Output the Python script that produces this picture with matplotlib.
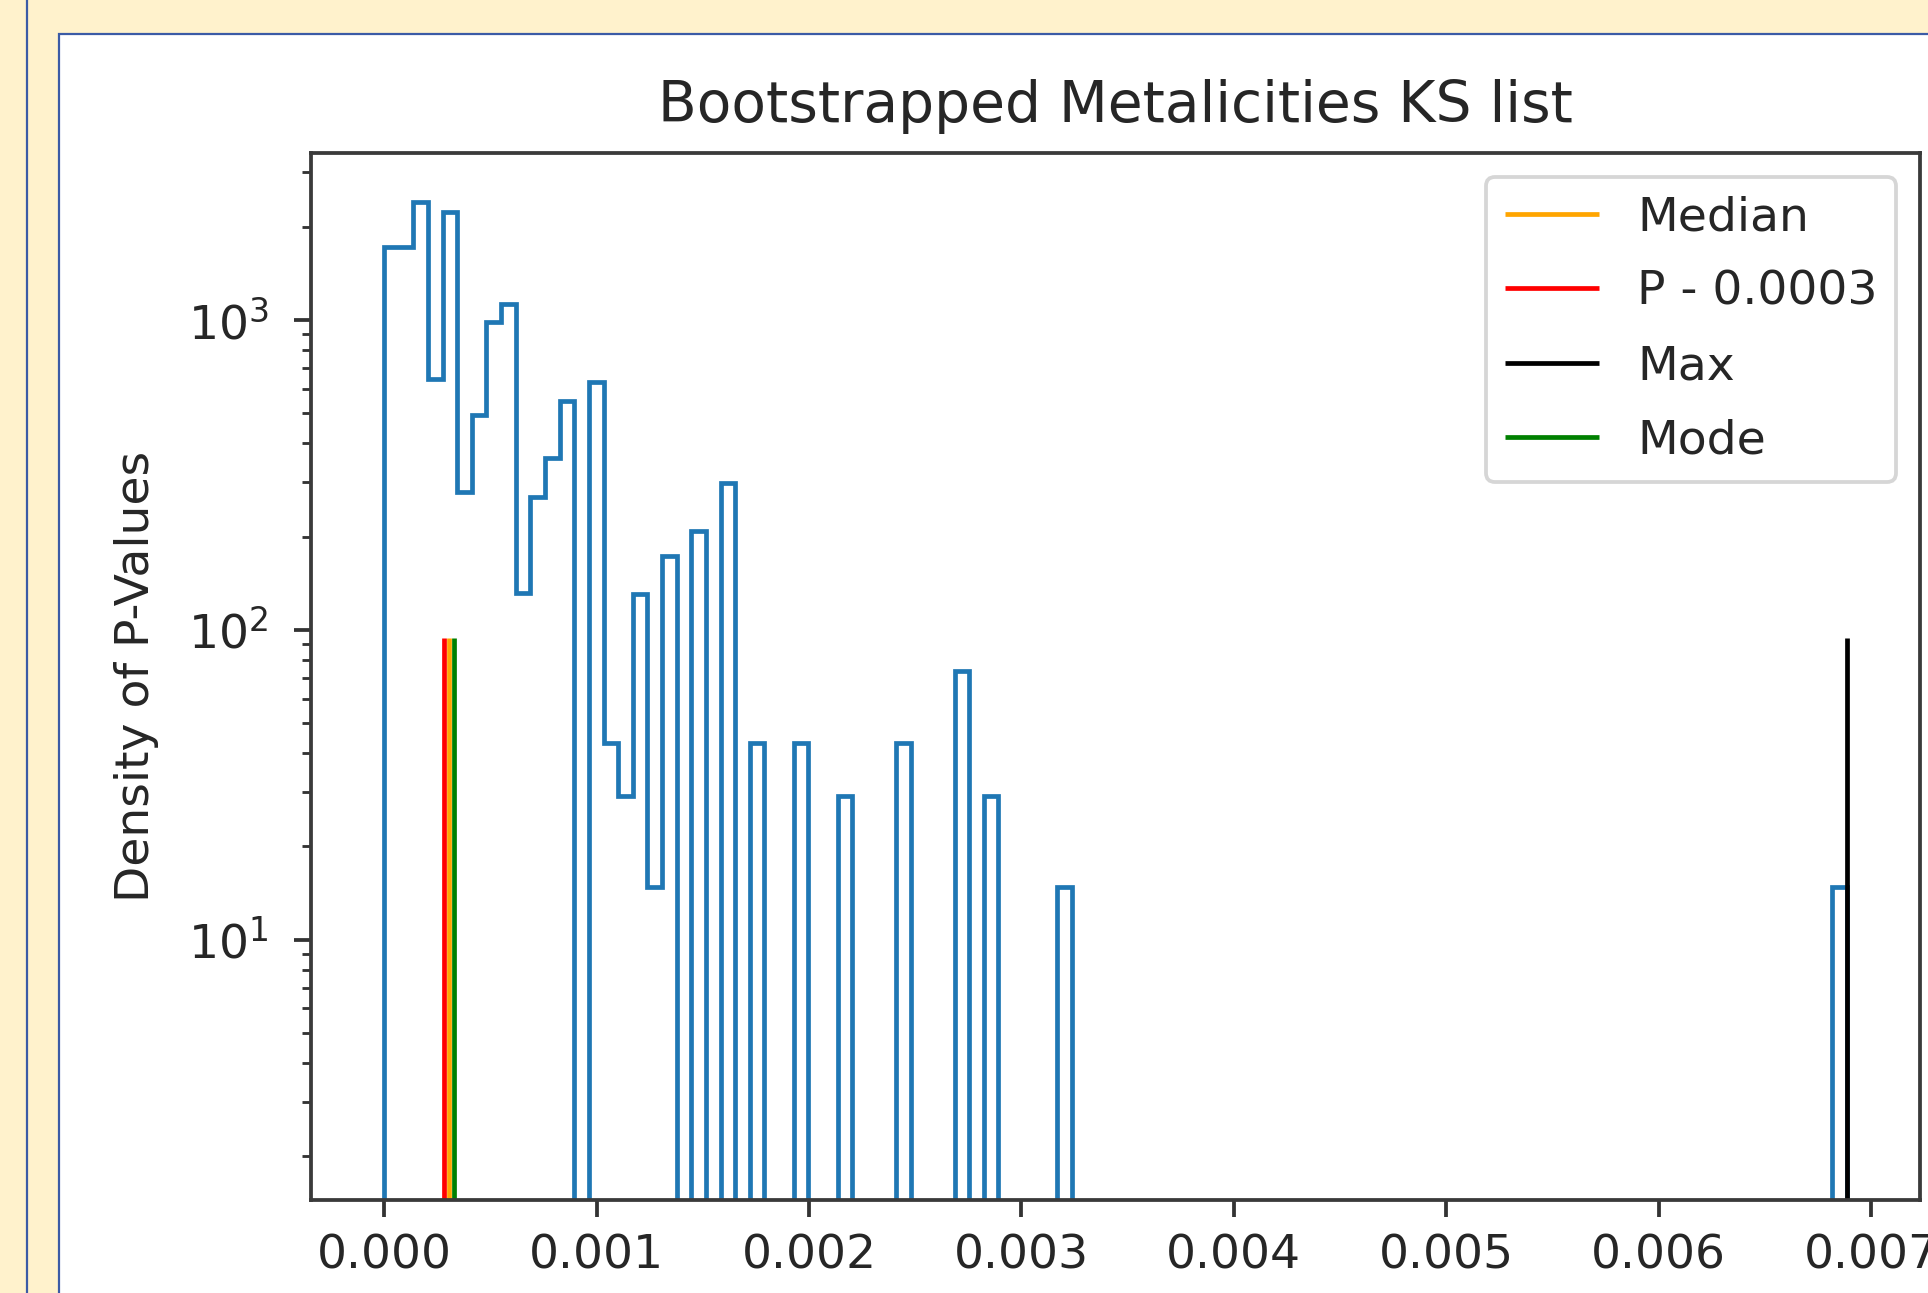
import numpy as np
import matplotlib
matplotlib.use('Agg')
import matplotlib.pyplot as plt
from matplotlib.patches import Rectangle
from matplotlib.lines import Line2D

# bootstrapped KS p-values, histogram with 100 bins from 0 to the max p-value
p_max = 0.006886
n_bins = 100

# density per bin (zeros are empty bins)
density = [1722, 1722, 2407, 644, 2234, 278, 493, 985, 1127, 132,
           268, 358, 547, 0, 630, 43.3, 29.1, 131, 14.8, 173,
           0, 208, 0, 299, 0, 43.3, 0, 0, 43.3, 0,
           0, 29.1, 0, 0, 0, 43.3, 0, 0, 0, 73.8,
           0, 29.1, 0, 0, 0, 0, 14.8, 0, 0, 0,
           0, 0, 0, 0, 0, 0, 0, 0, 0, 0,
           0, 0, 0, 0, 0, 0, 0, 0, 0, 0,
           0, 0, 0, 0, 0, 0, 0, 0, 0, 0,
           0, 0, 0, 0, 0, 0, 0, 0, 0, 0,
           0, 0, 0, 0, 0, 0, 0, 0, 0, 14.8]

median_p = 0.000306
p_value = 0.000282
mode_p = 0.000327
line_top = 94

W, H = 1928, 1293
S = 3.4  # the screenshot is a scaled-up notebook figure


def fx(px):
    return px / W


def fy(py):
    return 1 - py / H


fig = plt.figure(figsize=(W / 100, H / 100), dpi=100)
fig.patch.set_facecolor('#fff2cc')

# white slide panel with blue border + outer blue rule
panel = Rectangle((fx(59), -0.05), 1.0, fy(34) + 0.05, transform=fig.transFigure,
                  facecolor='white', edgecolor='#3b5ba6', lw=1.6, zorder=-2)
fig.add_artist(panel)
fig.add_artist(Line2D([fx(27), fx(27)], [0, 1], transform=fig.transFigure,
                      color='#3b5ba6', lw=1.6, zorder=-1))

ax = fig.add_axes([fx(311), fy(1200), fx(1920) - fx(311), fy(153) - fy(1200)])
ax.set_yscale('log')

edges = np.linspace(0, p_max, n_bins + 1)
ax.hist(edges[:-1], bins=edges, weights=density, histtype='step', color='#1f77b4', lw=3.4)

ax.vlines(median_p, 0.5, line_top, color='orange', lw=3.4, label='Median')
ax.vlines(p_value, 0.5, line_top, color='red', lw=3.4, label='P - ' + str(round(p_value, 4)))
ax.vlines(p_max, 0.5, line_top, color='black', lw=3.4, label='Max')
ax.vlines(mode_p, 0.5, line_top, color='green', lw=3.4, label='Mode')

ax.set_xlim(-0.000344, 0.00723)
ax.set_ylim(1.443, 3467)
ax.set_xticks(np.arange(0, 0.0071, 0.001))

txt = '#262626'
ax.set_title('Bootstrapped Metalicities KS list', fontsize=12 * S, color=txt, pad=6.5 * S)
ax.set_ylabel('Density of P-Values', fontsize=10 * S, color=txt, labelpad=6 * S)
ax.tick_params(axis='x', which='major', pad=3.5 * S)
ax.tick_params(axis='y', which='major', pad=5.5 * S)
ax.tick_params(which='major', length=3.5 * S, width=0.8 * S,
               labelsize=10 * S, labelcolor=txt, color='#333333')
ax.tick_params(which='minor', length=2 * S, width=0.6 * S, color='#333333')
for sp in ax.spines.values():
    sp.set_linewidth(0.8 * S)
    sp.set_color('#3a3a3a')

leg = ax.legend(loc='upper right', fontsize=10 * S, labelspacing=0.62)
leg.get_frame().set_linewidth(0.8 * S)
for t in leg.get_texts():
    t.set_color(txt)

plt.savefig('out.png', dpi=100, facecolor=fig.get_facecolor())
